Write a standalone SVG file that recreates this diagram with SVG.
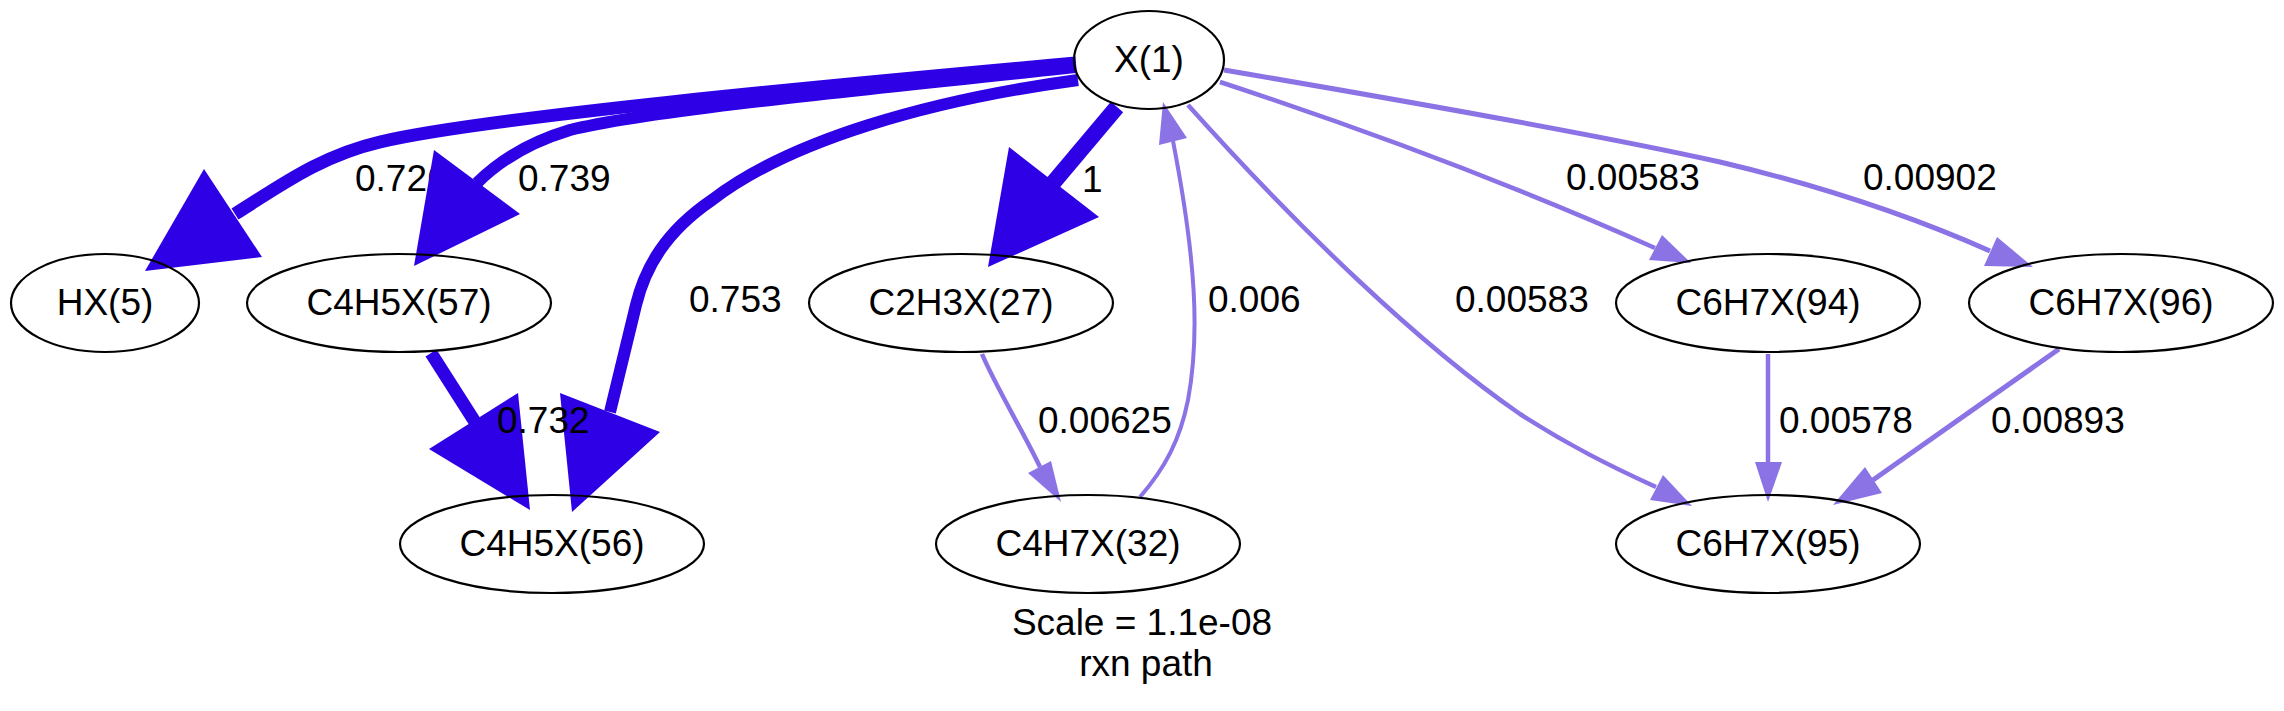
<svg xmlns="http://www.w3.org/2000/svg" width="2284" height="711" viewBox="0 0 2284 711">
<style>
text{font-family:"Liberation Sans",Arial,sans-serif;font-size:37px;fill:#000}
.n ellipse{fill:none;stroke:#000;stroke-width:2.2}
.n text{text-anchor:middle}
.d{fill:none;stroke:#2e00e6}
.l{fill:none;stroke:#8b73e6}
.da{fill:#2e00e6;stroke:none}
.la{fill:#8b73e6;stroke:none}
</style>
<rect width="2284" height="711" fill="#fff"/>
<g id="connectors">
  <g id="e_x1_hx5">
    <path class="d" stroke-width="13" d="M1076,63 C820,86 480,118 380,142 C320,156 280,186 235,214"/>
    <polygon class="da" points="145,271 204,169 262,257"/>
    <text x="355" y="191">0.726</text>
  </g>
  <g id="e_x1_c4h5x57">
    <path class="d" stroke-width="12" d="M1076,67 C880,88 650,110 570,130 C530,142 500,160 477,183"/>
    <polygon class="da" points="414,266 434,150 520,214"/>
    <text x="518" y="191">0.739</text>
  </g>
  <g id="e_x1_c4h5x56">
    <path class="d" stroke-width="12" d="M1078,80 C930,100 790,140 712,200 C665,232 645,268 636,305 C630,330 620,370 610,412"/>
    <polygon class="da" points="572,512 560,393 660,432"/>
  </g>
  <g id="e_c4h5x57_c4h5x56">
    <path class="d" stroke-width="13" d="M431,353 L475,422"/>
    <polygon class="da" points="530,510 429,449 518,393"/>
  </g>
  <g id="e_x1_c2h3x27">
    <path class="d" stroke-width="16" d="M1117,107 L1053,183"/>
    <polygon class="da" points="988,267 1009,147 1099,217"/>
  </g>
  <g id="e_c2h3x27_c4h7x32">
    <path class="l" stroke-width="4.5" d="M982,354 C995,385 1025,435 1040,467"/>
    <polygon class="la" points="1061,502 1028,473 1051,461"/>
  </g>
  <g id="e_c4h7x32_x1">
    <path class="l" stroke-width="4" d="M1140,497 C1165,468 1180,440 1188,400 C1200,335 1196,260 1173,141"/>
    <polygon class="la" points="1163,102 1159,145 1187,138"/>
  </g>
  <g id="e_x1_c6h7x95">
    <path class="l" stroke-width="4.5" d="M1188,105 C1300,230 1420,345 1520,414 C1570,446 1610,466 1656,487"/>
    <polygon class="la" points="1692,506 1650,500 1663,475"/>
  </g>
  <g id="e_x1_c6h7x94">
    <path class="l" stroke-width="4.5" d="M1220,82 C1330,118 1480,170 1655,248"/>
    <polygon class="la" points="1691,263 1649,260 1662,235"/>
  </g>
  <g id="e_x1_c6h7x96">
    <path class="l" stroke-width="5" d="M1224,70 C1400,100 1600,135 1720,162 C1830,188 1920,220 1990,251"/>
    <polygon class="la" points="2033,267 1984,266 1997,237"/>
  </g>
  <g id="e_c6h7x94_c6h7x95">
    <path class="l" stroke-width="4.5" d="M1768,354 L1768,462"/>
    <polygon class="la" points="1768,502 1755,462 1782,462"/>
  </g>
  <g id="e_c6h7x96_c6h7x95">
    <path class="l" stroke-width="5" d="M2059,349 L1873,480"/>
    <polygon class="la" points="1833,505 1865,467 1882,493"/>
  </g>
  <g id="labels">
    <text x="689" y="312">0.753</text>
    <text x="497" y="433">0.732</text>
    <text x="1082" y="192">1</text>
    <text x="1208" y="312">0.006</text>
    <text x="1038" y="433">0.00625</text>
    <text x="1455" y="312">0.00583</text>
    <text x="1566" y="190">0.00583</text>
    <text x="1863" y="190">0.00902</text>
    <text x="1779" y="433">0.00578</text>
    <text x="1991" y="433">0.00893</text>
  </g>
</g>
<g id="x1" class="n"><ellipse cx="1149" cy="60" rx="75" ry="49"/><text x="1149" y="72">X(1)</text></g>
<g id="hx5" class="n"><ellipse cx="105" cy="303" rx="94" ry="49"/><text x="105" y="315">HX(5)</text></g>
<g id="c4h5x57" class="n"><ellipse cx="399" cy="303" rx="152" ry="49"/><text x="399" y="315">C4H5X(57)</text></g>
<g id="c2h3x27" class="n"><ellipse cx="961" cy="303" rx="152" ry="49"/><text x="961" y="315">C2H3X(27)</text></g>
<g id="c6h7x94" class="n"><ellipse cx="1768" cy="303" rx="152" ry="49"/><text x="1768" y="315">C6H7X(94)</text></g>
<g id="c6h7x96" class="n"><ellipse cx="2121" cy="303" rx="152" ry="49"/><text x="2121" y="315">C6H7X(96)</text></g>
<g id="c4h5x56" class="n"><ellipse cx="552" cy="544" rx="152" ry="49"/><text x="552" y="556">C4H5X(56)</text></g>
<g id="c4h7x32" class="n"><ellipse cx="1088" cy="544" rx="152" ry="49"/><text x="1088" y="556">C4H7X(32)</text></g>
<g id="c6h7x95" class="n"><ellipse cx="1768" cy="544" rx="152" ry="49"/><text x="1768" y="556">C6H7X(95)</text></g>
<g id="caption">
  <text x="1142" y="635" text-anchor="middle">Scale = 1.1e-08</text>
  <text x="1146" y="676" text-anchor="middle">rxn path</text>
</g>
</svg>
